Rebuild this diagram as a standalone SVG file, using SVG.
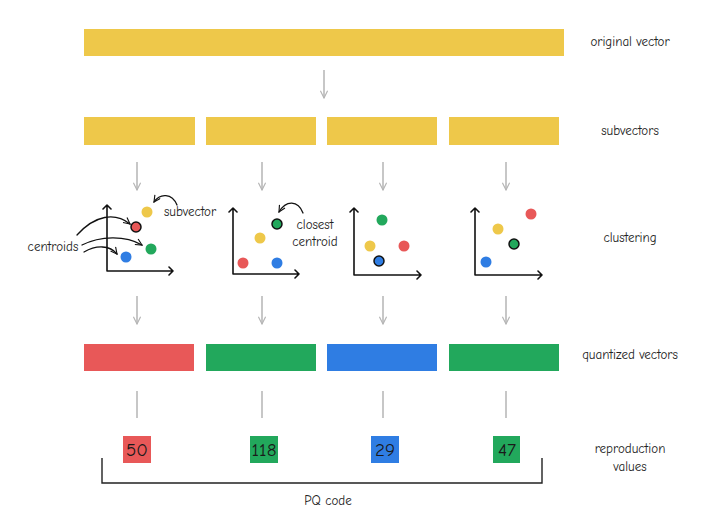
<svg xmlns="http://www.w3.org/2000/svg" width="720" height="515" viewBox="0 0 720 515">
<defs>
<style>
.y{fill:#EEC84A}.r{fill:#E85858}.g{fill:#22A85C}.b{fill:#2F7DE3}
.lbl{font-family:"Comic Neue","Open Sans","Liberation Sans",sans-serif;font-size:13px;fill:#222;text-anchor:middle}
.num{font-family:"Comic Neue","Open Sans","Liberation Sans",sans-serif;font-size:19px;fill:#1a1a1a;text-anchor:middle}
.conn{stroke:#b5b5b5;stroke-width:1.5;fill:none}
.ax{stroke:#111;stroke-width:1.6;fill:none;stroke-linecap:round;stroke-linejoin:round}
.cur{stroke:#111;stroke-width:1.3;fill:none;stroke-linecap:round}
.out{stroke:#111;stroke-width:1.5}
</style>
<marker id="ah" viewBox="0 0 10 10" refX="9" refY="5" markerWidth="9" markerHeight="9" orient="auto" markerUnits="userSpaceOnUse">
<path d="M1,1 L9,5 L1,9" fill="none" stroke="#b5b5b5" stroke-width="1.3"/>
</marker>
<marker id="bh" viewBox="0 0 10 10" refX="9" refY="5" markerWidth="8" markerHeight="8" orient="auto" markerUnits="userSpaceOnUse">
<path d="M1,1 L9,5 L1,9" fill="none" stroke="#111" stroke-width="1.4"/>
</marker>
</defs>
<rect width="720" height="515" fill="#ffffff"/>

<g id="original-vector"><rect class="y" x="84" y="29" width="480" height="27"/><text class="lbl" x="630" y="46">original vector</text></g>

<g id="subvectors">
<rect class="y" x="84" y="117" width="111" height="28"/>
<rect class="y" x="206" y="117" width="110" height="28"/>
<rect class="y" x="327" y="117" width="110" height="28"/>
<rect class="y" x="449" y="117" width="110" height="28"/>
<text class="lbl" x="630" y="135">subvectors</text>
</g>

<g id="clustering-1">
<path class="ax" d="M107,205 L107,271 L173,271 M103,209 L107,205 L111,209 M169,267 L173,271 L169,275"/>
<circle class="y" cx="147" cy="212" r="5.5"/>
<circle class="r out" cx="136" cy="227" r="5"/>
<circle class="g" cx="151" cy="249" r="5.5"/>
<circle class="b" cx="126" cy="257" r="5.5"/>
<text class="lbl" x="190" y="216">subvector</text>
<text class="lbl" x="53" y="251">centroids</text>
<path class="cur" d="M177,205 C172,193 160,193 154,202" marker-end="url(#bh)"/>
<path class="cur" d="M77,235 C95,215 115,212 130,224" marker-end="url(#bh)"/>
<path class="cur" d="M82,245 C100,236 125,235 142,245" marker-end="url(#bh)"/>
<path class="cur" d="M84,252 C96,245 110,245 117,254" marker-end="url(#bh)"/>
</g>

<g id="clustering-2">
<path class="ax" d="M233,208 L233,274 L299,274 M229,212 L233,208 L237,212 M295,270 L299,274 L295,278"/>
<circle class="g out" cx="277" cy="224" r="5"/>
<circle class="y" cx="260" cy="238" r="5.5"/>
<circle class="r" cx="243" cy="263" r="5.5"/>
<circle class="b" cx="277" cy="263" r="5.5"/>
<text class="lbl" x="315" y="229">closest</text>
<text class="lbl" x="315" y="246">centroid</text>
<path class="cur" d="M303,213 C298,200 286,200 279,212" marker-end="url(#bh)"/>
</g>

<g id="clustering-3">
<path class="ax" d="M354,208 L354,275 L421,275 M350,212 L354,208 L358,212 M417,271 L421,275 L417,279"/>
<circle class="g" cx="382" cy="220" r="5.5"/>
<circle class="y" cx="370" cy="246" r="5.5"/>
<circle class="r" cx="404" cy="246" r="5.5"/>
<circle class="b out" cx="379" cy="261" r="5"/>
</g>

<g id="clustering-4">
<path class="ax" d="M475,208 L475,275 L542,275 M471,212 L475,208 L479,212 M538,271 L542,275 L538,279"/>
<circle class="r" cx="531" cy="214" r="5.5"/>
<circle class="y" cx="498" cy="229" r="5.5"/>
<circle class="g out" cx="514" cy="244" r="5"/>
<circle class="b" cx="486" cy="262" r="5.5"/>
<text class="lbl" x="630" y="242">clustering</text>
</g>

<g id="quantized-vectors">
<rect class="r" x="84" y="344" width="110" height="27"/>
<rect class="g" x="206" y="344" width="110" height="27"/>
<rect class="b" x="327" y="344" width="110" height="27"/>
<rect class="g" x="449" y="344" width="110" height="27"/>
<text class="lbl" x="630" y="359">quantized vectors</text>
</g>

<g id="reproduction-values">
<rect class="r" x="123" y="436" width="28" height="27"/><text class="num" x="137" y="456">50</text>
<rect class="g" x="250" y="436" width="28" height="27"/><text class="num" x="264" y="456">118</text>
<rect class="b" x="371" y="436" width="28" height="27"/><text class="num" x="385" y="456">29</text>
<rect class="g" x="493" y="436" width="27" height="27"/><text class="num" x="507" y="456">47</text>
<text class="lbl" x="630" y="453">reproduction</text>
<text class="lbl" x="630" y="471">values</text>
</g>

<g id="pq-code">
<path d="M102,458 L102,483 L542,483 L542,458" fill="none" stroke="#222" stroke-width="1.4"/>
<text class="lbl" x="328" y="505">PQ code</text>
</g>

<g id="connectors">
<path class="conn" d="M324,70 L324,98" marker-end="url(#ah)"/>
<path class="conn" d="M137,162 L137,190" marker-end="url(#ah)"/>
<path class="conn" d="M262,162 L262,190" marker-end="url(#ah)"/>
<path class="conn" d="M383,162 L383,190" marker-end="url(#ah)"/>
<path class="conn" d="M506,162 L506,190" marker-end="url(#ah)"/>
<path class="conn" d="M137,296 L137,324" marker-end="url(#ah)"/>
<path class="conn" d="M262,296 L262,324" marker-end="url(#ah)"/>
<path class="conn" d="M383,296 L383,324" marker-end="url(#ah)"/>
<path class="conn" d="M506,296 L506,324" marker-end="url(#ah)"/>
<path class="conn" d="M137,391 L137,418"/>
<path class="conn" d="M262,391 L262,418"/>
<path class="conn" d="M383,391 L383,418"/>
<path class="conn" d="M506,391 L506,418"/>
</g>
</svg>
